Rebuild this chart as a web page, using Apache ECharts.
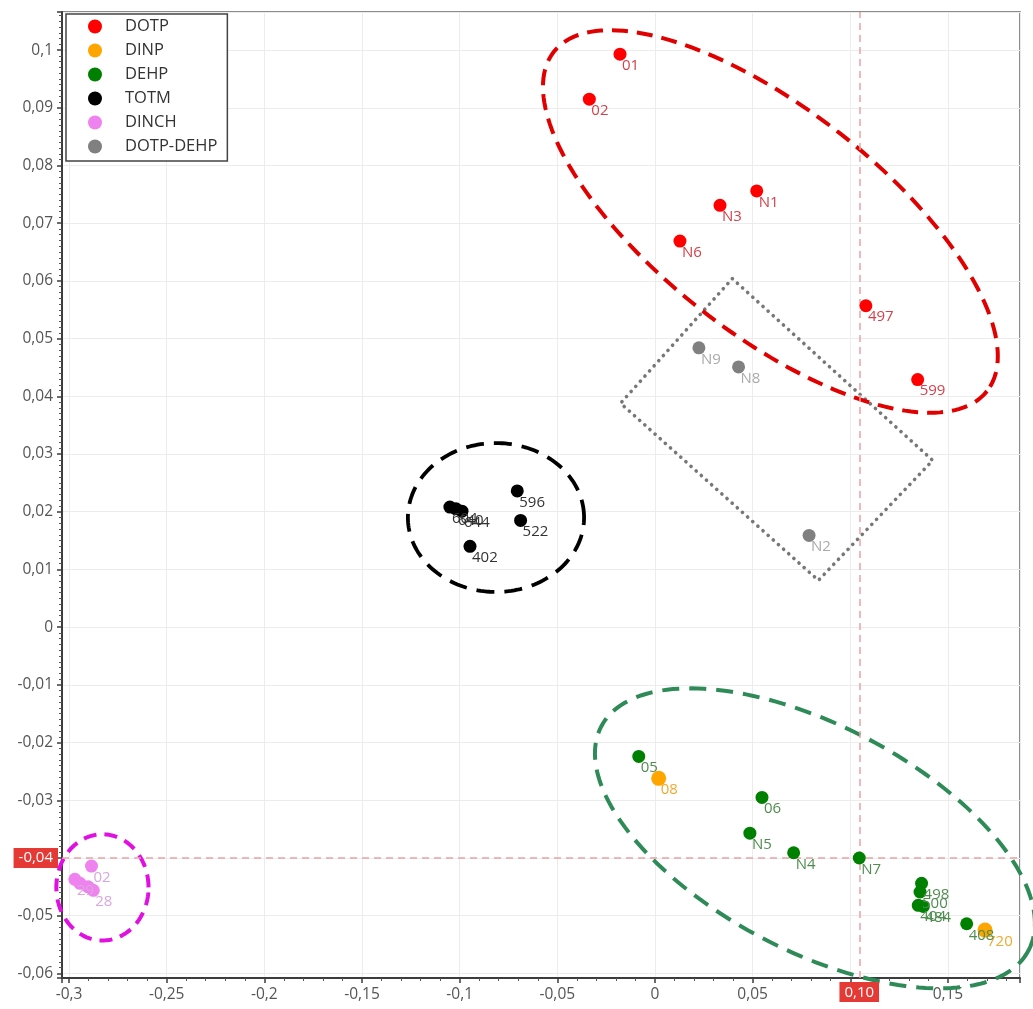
<!DOCTYPE html>
<html>
<head>
<meta charset="utf-8">
<script src="https://cdn.jsdelivr.net/npm/echarts@6/dist/echarts.min.js"></script>
<style>
  html, body { margin: 0; padding: 0; background: #fff; }
  #chart { width: 1033px; height: 1009px; }
</style>
</head>
<body>
<div id="chart"></div>
<script>
// Score plot of plasticizer samples (component 1 vs component 2)

// Axis extents
const xRange = [-0.3036, 0.1869];
const yRange = [-0.0608, 0.1066];
const xStep = 0.05;
const yStep = 0.01;

// DOTP
const dotpNames = ['01', '02', 'N1', 'N3', 'N6', '497', '599'];
const dotpX = [-0.0179, -0.0336, 0.0521, 0.0333, 0.0128, 0.1080, 0.1345];
const dotpY = [0.0993, 0.0915, 0.0756, 0.0731, 0.0669, 0.0557, 0.0429];

// DINP
const dinpNames = ['08', '720'];
const dinpX = [0.0019, 0.1690];
const dinpY = [-0.0262, -0.0525];

// DEHP
const dehpNames = ['05', '06', 'N5', 'N4', 'N7', '498', '500', '404', '484', '408'];
const dehpX = [-0.0083, 0.0548, 0.0486, 0.0710, 0.1046, 0.1365, 0.1357, 0.1348, 0.1374, 0.1596];
const dehpY = [-0.0224, -0.0295, -0.0357, -0.0391, -0.0400, -0.0444, -0.0459, -0.0482, -0.0484, -0.0514];

// TOTM
const totmNames = ['596', '522', '402', '604', '640', '644'];
const totmX = [-0.0705, -0.0688, -0.0947, -0.1050, -0.1019, -0.0988];
const totmY = [0.0236, 0.0185, 0.0140, 0.0208, 0.0205, 0.0201];

// DINCH
const dinchNames = ['02', '29', '', '', '28'];
const dinchX = [-0.2885, -0.2970, -0.2944, -0.2902, -0.2876];
const dinchY = [-0.0414, -0.0437, -0.0444, -0.0450, -0.0456];

// DOTP-DEHP blends
const mixNames = ['N9', 'N8', 'N2'];
const mixX = [0.0225, 0.0428, 0.0789];
const mixY = [0.0484, 0.0451, 0.0159];

// Group outlines: [centreX, centreY, axisA_dx, axisA_dy, axisB_dx, axisB_dy] in data units
const dotpRing = [0.0591, 0.0703, 0.1109, -0.0294, -0.0355, -0.0153];
const dehpRing = [0.0819, -0.0366, 0.1094, -0.0194, -0.0268, -0.0173];
const totmRing = [-0.0814, 0.0190, 0.0451, 0, 0, 0.0129];
const dinchRing = [-0.2829, -0.0451, 0.0236, 0, 0, 0.0092];
// Blend box corners (data units)
const mixBox = [[0.0396, 0.0604], [0.1422, 0.0289], [0.0837, 0.0081], [-0.0176, 0.0388]];

// Highlighted sample for the crosshair (N7)
const markIdx = dehpNames.indexOf('N7');
const markX = dehpX[markIdx];
const markY = dehpY[markIdx];

const FONT = 'Open Sans';
const comma = v => String(+v.toFixed(4)).replace('.', ',');

function points(names, xs, ys) {
  return names.map((n, i) => ({ name: n, value: [xs[i], ys[i]] }));
}

function scatter(name, color, labelColor, names, xs, ys, size) {
  return {
    name: name,
    type: 'scatter',
    symbol: 'circle',
    symbolSize: size,
    itemStyle: { color: color, opacity: 1 },
    data: points(names, xs, ys),
    z: 5,
    label: {
      show: true,
      position: [size / 2 + 2, size / 2 + 4],
      align: 'left',
      verticalAlign: 'top',
      formatter: p => p.name,
      color: labelColor,
      fontSize: 15,
      fontFamily: FONT
    },
    emphasis: { disabled: true }
  };
}

function ringSeries(ring, stroke, width, dash) {
  return {
    type: 'custom',
    silent: true,
    clip: false,
    z: 3,
    data: [[ring[0], ring[1]]],
    renderItem: function (params, api) {
      const pts = [];
      const n = 180;
      for (let i = 0; i < n; i++) {
        const t = i / n * Math.PI * 2;
        const c = Math.cos(t), s = Math.sin(t);
        pts.push(api.coord([
          ring[0] + c * ring[2] + s * ring[4],
          ring[1] + c * ring[3] + s * ring[5]
        ]));
      }
      return {
        type: 'polygon',
        shape: { points: pts },
        style: { fill: 'none', stroke: stroke, lineWidth: width, lineDash: dash }
      };
    }
  };
}

const boxSeries = {
  type: 'custom',
  silent: true,
  clip: false,
  z: 2,
  data: [mixBox[0]],
  renderItem: function (params, api) {
    return {
      type: 'polygon',
      shape: { points: mixBox.map(p => api.coord(p)) },
      style: { fill: 'none', stroke: '#777', lineWidth: 3.6, lineDash: [0.1, 6.8], lineCap: 'round', lineJoin: 'round' }
    };
  }
};

const crossLabel = {
  show: true,
  position: 'start',
  distance: 4,
  formatter: p => p.value.toFixed(2).replace('.', ','),
  color: '#fff',
  backgroundColor: '#e53935',
  padding: [3, 5, 2, 5],
  fontSize: 15,
  fontFamily: FONT
};

const dehpSeries = scatter('DEHP', '#008000', '#4f8d4f', dehpNames, dehpX, dehpY, 13);
dehpSeries.markLine = {
  silent: true,
  precision: 4,
  symbol: ['none', 'none'],
  animation: false,
  lineStyle: { color: '#eba3a3', width: 1.5, type: [7, 5] },
  label: crossLabel,
  data: [{ xAxis: markX }, { yAxis: markY }]
};

const axisCommon = {
  type: 'value',
  axisLine: { show: true, onZero: false, lineStyle: { color: '#3c3c3c', width: 2 } },
  axisTick: { show: true, inside: false, length: 5, lineStyle: { color: '#3c3c3c', width: 1.5 } },
  minorTick: { show: true, length: 3, lineStyle: { color: '#555', width: 1 } },
  splitLine: { show: true, lineStyle: { color: '#ececec', width: 1 } },
  axisLabel: {
    color: '#555',
    fontSize: 15.5,
    fontFamily: FONT,
    margin: 9,
    showMinLabel: false,
    showMaxLabel: false,
    formatter: comma
  }
};

const option = {
  animation: false,
  backgroundColor: '#fff',
  grid: {
    left: 62, top: 12, right: 13, bottom: 31,
    show: true, borderColor: '#666', borderWidth: 1.5,
    outerBoundsMode: 'none'
  },
  xAxis: Object.assign({}, axisCommon, {
    min: xRange[0], max: xRange[1],
    minInterval: xStep, maxInterval: xStep, splitNumber: 10,
    minorTick: Object.assign({}, axisCommon.minorTick, { splitNumber: 5 })
  }),
  yAxis: Object.assign({}, axisCommon, {
    min: yRange[0], max: yRange[1],
    minInterval: yStep, maxInterval: yStep, splitNumber: 17,
    minorTick: Object.assign({}, axisCommon.minorTick, { splitNumber: 10 })
  }),
  legend: {
    orient: 'vertical',
    left: 66, top: 14,
    data: ['DOTP', 'DINP', 'DEHP', 'TOTM', 'DINCH', 'DOTP-DEHP'],
    icon: 'circle',
    itemWidth: 50, itemHeight: 14, itemGap: 7,
    padding: [4, 10, 6, 22],
    backgroundColor: '#fff',
    borderColor: '#444', borderWidth: 1.5, borderRadius: 0,
    textStyle: { fontSize: 16.5, color: '#333', fontFamily: FONT },
    selectedMode: false
  },
  series: [
    boxSeries,
    ringSeries(dotpRing, '#e00000', 4, [16, 9]),
    ringSeries(dehpRing, '#2e8b57', 4, [17, 10]),
    ringSeries(totmRing, '#000000', 3.8, [18, 10]),
    ringSeries(dinchRing, '#e010e0', 4, [13, 8]),
    scatter('DOTP', '#ff0000', '#d3424c', dotpNames, dotpX, dotpY, 13),
    scatter('DINP', '#ffa500', '#f0aa30', dinpNames, dinpX, dinpY, 15),
    dehpSeries,
    scatter('TOTM', '#000000', '#333333', totmNames, totmX, totmY, 13),
    scatter('DINCH', '#ee82ee', '#d9a6de', dinchNames, dinchX, dinchY, 13),
    scatter('DOTP-DEHP', '#808080', '#aaaaaa', mixNames, mixX, mixY, 13)
  ]
};

const chart = echarts.init(document.getElementById('chart'), null, { renderer: 'canvas' });
chart.setOption(option);
</script>
</body>
</html>
